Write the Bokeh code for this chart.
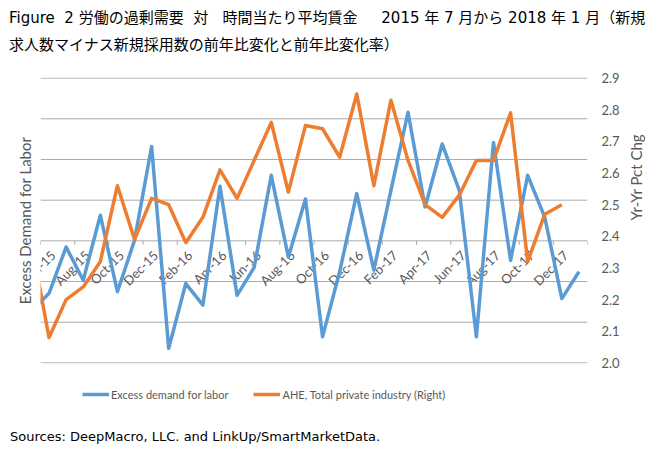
import math
from bokeh.plotting import figure
from bokeh.layouts import column
from bokeh.models import (Range1d, LinearAxis, FixedTicker, Legend, LegendItem,
                          PrintfTickFormatter, Div)
from bokeh.core.properties import value
from bokeh.embed import file_html
from bokeh.resources import INLINE

# ---- data -------------------------------------------------------------
months = ["May-15", "Jun-15", "Jul-15", "Aug-15", "Sep-15", "Oct-15", "Nov-15", "Dec-15",
          "Jan-16", "Feb-16", "Mar-16", "Apr-16", "May-16", "Jun-16", "Jul-16", "Aug-16",
          "Sep-16", "Oct-16", "Nov-16", "Dec-16", "Jan-17", "Feb-17", "Mar-17", "Apr-17",
          "May-17", "Jun-17", "Jul-17", "Aug-17", "Sep-17", "Oct-17", "Nov-17", "Dec-17",
          "Jan-18"]

# Excess demand for labor (left axis, May-15 .. Jan-18)
excess_demand = [-1.72, -1.29, -0.15, -0.97, 0.63, -1.25, 0.01, 2.32, -2.64, -1.05,
                 -1.58, 1.34, -1.34, -0.65, 1.61, -0.40, 1.03, -2.36, -0.76, 1.16,
                 -0.72, 1.24, 3.16, 0.83, 2.38, 1.24, -2.36, 2.42, -0.48, 1.61,
                 0.58, -1.42, -0.76]

# AHE, total private industry, yr-yr pct chg (right axis, May-15 .. Dec-17)
ahe = [2.37, 2.08, 2.20, 2.24, 2.32, 2.56, 2.39, 2.52, 2.50, 2.38,
       2.46, 2.61, 2.52, 2.64, 2.76, 2.54, 2.75, 2.74, 2.65, 2.85,
       2.56, 2.83, 2.64, 2.50, 2.46, 2.53, 2.64, 2.64, 2.79, 2.32,
       2.47, 2.50]

tick_labels = ["Jun-15", "Aug-15", "Oct-15", "Dec-15", "Feb-16", "Apr-16", "Jun-16",
               "Aug-16", "Oct-16", "Dec-16", "Feb-17", "Apr-17", "Jun-17", "Aug-17",
               "Oct-17", "Dec-17"]
left_ticks = [-3, -2, -1, 0, 1, 2, 3, 4]
right_ticks = [2.0, 2.1, 2.2, 2.3, 2.4, 2.5, 2.6, 2.7, 2.8, 2.9]

NB = "&nbsp;"
title_line1 = ("Figure" + NB * 2 + "2" + NB + "労働の過剰需要" + NB * 2 + "対" + NB * 3 +
               "時間当たり平均賃金" + NB * 5 + "2015" + NB + "年" + NB + "7" + NB + "月から" + NB +
               "2018" + NB + "年" + NB + "1" + NB + "月（新規")
title_line2 = "求人数マイナス新規採用数の前年比変化と前年比変化率）"
source_text = "Sources: DeepMacro, LLC. and LinkUp/SmartMarketData."
legend_labels = ["Excess demand for labor", "AHE, Total private industry (Right)"]

# month index: Jun-15 = 0
x_blue = [months.index(m) - 1 for m in months]
x_orange = x_blue[:len(ahe)]
tick_pos = [months.index(t) - 1 for t in tick_labels]
minor_pos = [t - 0.5 for t in tick_pos] + [tick_pos[-1] + 1.5]
x_lo, x_hi = -0.5, 31.5

BLUE = "#5B9BD5"
ORANGE = "#ED7D31"
GRID = "#ababab"
TXT = "#595959"
W = 660

# ---- title (two lines) -----------------------------------------------
title_div = Div(
    text=("<div style=\"font-family:'DejaVu Sans','Noto Sans CJK JP',sans-serif;"
          "font-size:15px;line-height:27px;color:#000;white-space:nowrap;"
          "padding:5px 0 0 9px;margin:0\">" + title_line1 + "<br>" + title_line2 + "</div>"),
    width=W, height=56, margin=0)

# ---- main chart -------------------------------------------------------
pad = 0.015
p = figure(width=W, height=325, output_backend="svg", toolbar_location=None, title=None,
           x_range=Range1d(x_lo, x_hi), y_range=Range1d(-3 - pad, 4 + pad),
           min_border_left=40, min_border_right=73, min_border_top=21, min_border_bottom=18,
           margin=0)
p.outline_line_color = None
p.background_fill_color = "white"
p.border_fill_color = "white"
rpad = pad * 0.9 / 7
p.extra_y_ranges = {"right": Range1d(2.0 - rpad, 2.9 + rpad)}

# horizontal gridlines on the left-axis scale (drawn first, under the series)
p.grid.visible = False
p.segment(x0=[x_lo] * len(left_ticks), y0=left_ticks, x1=[x_hi] * len(left_ticks),
          y1=left_ticks, line_color=GRID, line_width=1)

# category axis crossing at 0 (left scale): tick marks and rotated labels
p.xaxis.visible = False
p.segment(x0=minor_pos, y0=[0] * len(minor_pos), x1=minor_pos, y1=[-0.1] * len(minor_pos),
          line_color=GRID, line_width=1)
p.text(x=tick_pos, y=[0] * len(tick_pos), text=tick_labels, angle=math.pi / 4,
       text_align="right", text_baseline="middle", x_offset=4, y_offset=12,
       text_font=value("Lato"), text_font_size="13px", text_color=TXT)

# left axis (title only)
p.yaxis.ticker = FixedTicker(ticks=[])
p.yaxis.axis_line_color = None
p.yaxis.major_tick_line_color = None
p.yaxis.minor_tick_line_color = None
p.yaxis.major_tick_out = 0
p.yaxis.major_label_standoff = 0
p.yaxis.axis_label = "Excess Demand for Labor"
p.yaxis.axis_label_text_font = "Lato"
p.yaxis.axis_label_text_font_size = "15px"
p.yaxis.axis_label_text_font_style = "normal"
p.yaxis.axis_label_text_color = TXT
p.yaxis.axis_label_standoff = 7

# right axis
ra = LinearAxis(y_range_name="right", ticker=FixedTicker(ticks=right_ticks),
                formatter=PrintfTickFormatter(format="%.1f"))
ra.axis_line_color = None
ra.major_tick_line_color = None
ra.minor_tick_line_color = None
ra.major_tick_out = 0
ra.major_label_standoff = 14
ra.major_label_text_font = "Lato"
ra.major_label_text_font_size = "13px"
ra.major_label_text_color = TXT
ra.axis_label = "Yr-Yr Pct Chg"
ra.axis_label_text_font = "Lato"
ra.axis_label_text_font_size = "15px"
ra.axis_label_text_font_style = "normal"
ra.axis_label_text_color = TXT
ra.axis_label_standoff = 13
ra.axis_label_orientation = math.pi / 2
p.add_layout(ra, "right")

# series
p.line(x_blue, excess_demand, line_color=BLUE, line_width=3.5, line_join="round")
p.line(x_orange, ahe, y_range_name="right", line_color=ORANGE, line_width=3.5,
       line_join="round")

# ---- legend strip -----------------------------------------------------
leg = figure(width=W, height=43, output_backend="svg", toolbar_location=None, title=None,
             x_range=Range1d(1000, 1100), y_range=Range1d(1000, 1100),
             min_border_left=40, min_border_right=73, min_border_top=0, min_border_bottom=0,
             margin=0)
leg.axis.visible = False
leg.grid.visible = False
leg.outline_line_color = None
leg.border_fill_color = "white"
lb = leg.line(x_blue, excess_demand, line_color=BLUE, line_width=3.5)
lo = leg.line(x_orange, ahe, line_color=ORANGE, line_width=3.5)
legend = Legend(items=[LegendItem(label=legend_labels[0], renderers=[lb]),
                       LegendItem(label=legend_labels[1], renderers=[lo])],
                orientation="horizontal", location=(42, 23),
                label_text_font="Lato", label_text_font_size="11px", label_text_color=TXT,
                glyph_width=27, glyph_height=14, label_height=14, label_standoff=2,
                spacing=25, padding=0, margin=0, border_line_color=None,
                background_fill_alpha=0)
leg.add_layout(legend)

# ---- source -----------------------------------------------------------
source_div = Div(
    text=("<div style=\"font-family:'DejaVu Sans',sans-serif;font-size:13px;"
          "line-height:26px;color:#000;white-space:nowrap;padding:0 0 0 10px;margin:0\">"
          + source_text + "</div>"),
    width=W, height=30, margin=0)

layout = column(title_div, p, leg, source_div, spacing=0)
open("out.html", "w").write(file_html(layout, INLINE))
